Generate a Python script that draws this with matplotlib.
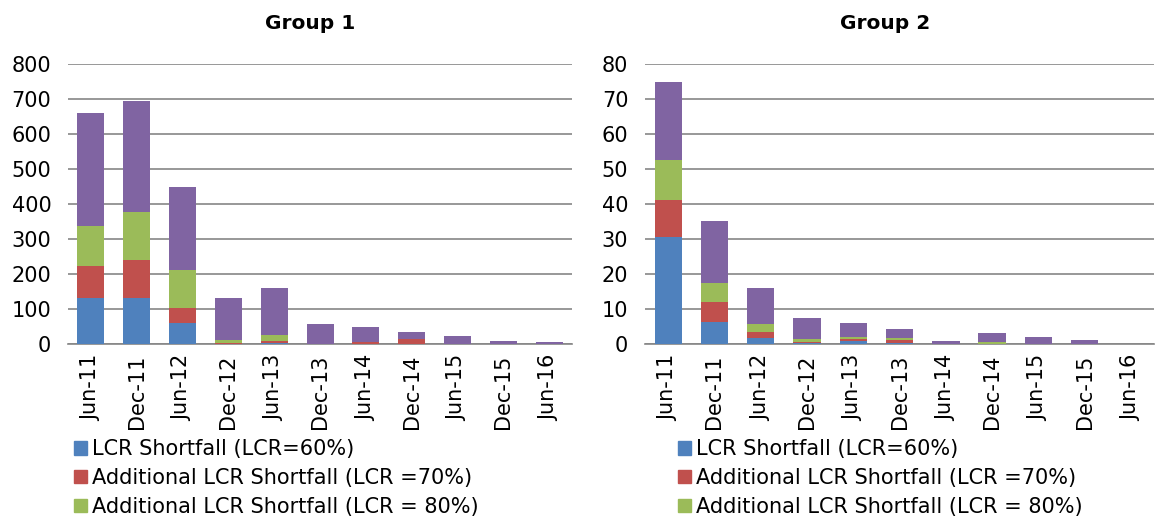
import matplotlib
matplotlib.use('Agg')  # no UI backend
import matplotlib.pyplot as plt
from matplotlib.patches import Patch

dates = ["Jun-11", "Dec-11", "Jun-12", "Dec-12", "Jun-13", "Dec-13",
         "Jun-14", "Dec-14", "Jun-15", "Dec-15", "Jun-16"]
labels = ["LCR Shortfall (LCR=60%)",
          "Additional LCR Shortfall (LCR =70%)",
          "Additional LCR Shortfall (LCR = 80%)"]

# group 1 (segment heights, stacked)
g1_lcr60 = [130, 130, 60, 1, 2, 0, 0, 0, 0, 0, 0]
g1_lcr70 = [92, 110, 44, 1, 6, 0, 7, 13, 0, 0, 0]
g1_lcr80 = [116, 136, 106, 9, 18, 0, 0, 0, 0, 0, 0]
g1_rest = [321, 317, 238, 119, 134, 56, 41, 20, 24, 9, 5]

# group 2
g2_lcr60 = [30.7, 6.4, 1.7, 0.2, 0.8, 0.3, 0, 0, 0, 0, 0]
g2_lcr70 = [10.3, 5.7, 1.8, 0.4, 0.5, 0.7, 0, 0, 0, 0, 0]
g2_lcr80 = [11.7, 5.3, 2.2, 0.9, 0.8, 0.7, 0, 0.7, 0, 0, 0]
g2_rest = [22.1, 17.8, 10.3, 6.0, 3.8, 2.7, 0.9, 2.3, 1.9, 1.2, 0]

colors = ["#4F81BD", "#C0504D", "#9BBB59", "#8064A2"]

fig = plt.figure(figsize=(11.57, 5.18), dpi=100)
ax1 = fig.add_axes([0.0588, 0.336, 0.4356, 0.5405])
ax2 = fig.add_axes([0.5575, 0.336, 0.4400, 0.5405])


def draw(ax, series, ymax, step, title, title_x):
    x = range(len(dates))
    bottom = [0] * len(dates)
    for vals, c in zip(series, colors):
        ax.bar(x, vals, 0.59, bottom=bottom, color=c, zorder=3)
        bottom = [b + v for b, v in zip(bottom, vals)]
    ax.set_xlim(-0.5, len(dates) - 0.5)
    ax.set_ylim(0, ymax)
    ax.set_yticks(range(0, ymax + 1, step))
    ax.set_xticks(list(x))
    ax.set_xticklabels(dates, rotation=90, fontsize=15)
    ax.tick_params(axis='y', labelsize=15, length=0, pad=12)
    ax.tick_params(axis='x', length=0, pad=8)
    ax.grid(axis='y', color='#868686', linewidth=1.2, zorder=0)
    for s in ['top', 'right', 'left']:
        ax.spines[s].set_visible(False)
    ax.spines['bottom'].set_color('#868686')
    ax.spines['bottom'].set_linewidth(1.2)
    fig.text(title_x, 0.955, title, ha='center', va='center',
             fontsize=14.5, fontweight='bold')


draw(ax1, [g1_lcr60, g1_lcr70, g1_lcr80, g1_rest], 800, 100, "Group 1", 0.268)
draw(ax2, [g2_lcr60, g2_lcr70, g2_lcr80, g2_rest], 80, 10, "Group 2", 0.765)

handles = [Patch(color=c) for c in colors[:3]]
for lx in [0.064, 0.586]:
    fig.legend(handles, labels, loc='upper left', bbox_to_anchor=(lx, 0.152),
               frameon=False, fontsize=15, handlelength=0.6, handleheight=0.6,
               handletextpad=0.25, labelspacing=0.42, borderpad=0,
               borderaxespad=0)

fig.savefig("out.png", dpi=100)
